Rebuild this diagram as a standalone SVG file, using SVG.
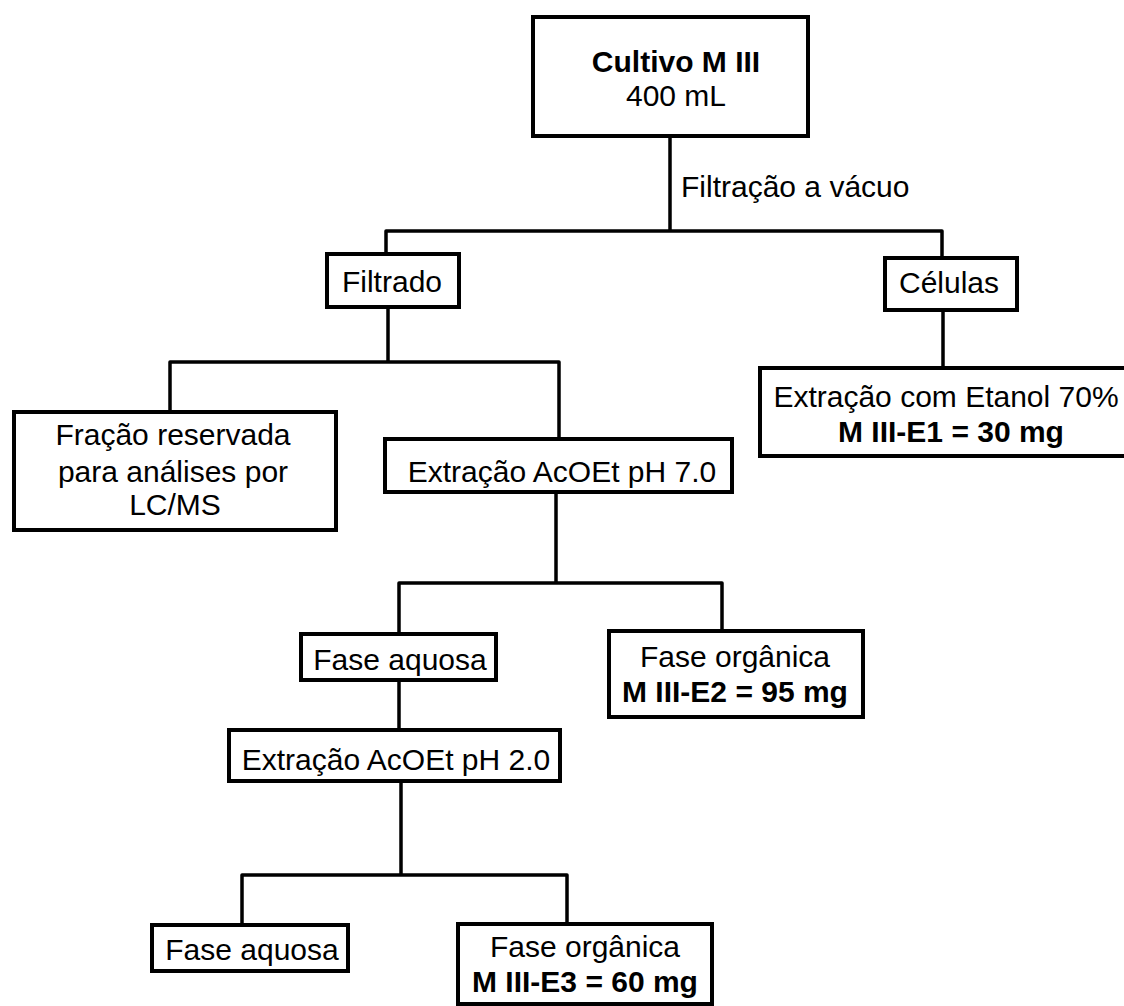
<svg xmlns="http://www.w3.org/2000/svg" width="1124" height="1006" viewBox="0 0 1124 1006">
<style>
.box{fill:#fff;stroke:#000;stroke-width:4}
.ln{stroke:#000;stroke-width:3.5;fill:none;stroke-linecap:round}
text{font-family:"Liberation Sans",Arial,sans-serif;font-size:30px;fill:#000;text-anchor:middle}
.b{font-weight:bold}
</style>
<rect width="1124" height="1006" fill="#fff"/>
<g id="connectors">
<path class="ln" d="M670,138V231M386,231H942M386,231V254M942,231V258M388,309V362M170,362H559M170,362V412M559,362V439M943,312V368M556,494V583M399,583H722M399,583V634M722,583V631M399,682V730M401,783V875M242,875H567M242,875V925M567,875V924"/>
<text x="681" y="197" style="text-anchor:start">Filtração a vácuo</text>
</g>
<g id="cultivo"><rect class="box" x="533" y="17" width="275" height="119"/><text class="b" x="676" y="72">Cultivo M III</text><text x="676" y="106">400 mL</text></g>
<g id="filtrado"><rect class="box" x="327" y="254" width="132" height="53"/><text x="392" y="292">Filtrado</text></g>
<g id="celulas"><rect class="box" x="885" y="258" width="132" height="52"/><text x="949" y="293">Células</text></g>
<g id="etanol"><rect class="box" x="760" y="368" width="375" height="88"/><text x="946" y="407">Extração com Etanol 70%</text><text class="b" x="951" y="442">M III-E1 = 30 mg</text></g>
<g id="fracao"><rect class="box" x="14" y="412" width="322" height="118"/><text x="173" y="445">Fração reservada</text><text x="173" y="482">para análises por</text><text x="175" y="515">LC/MS</text></g>
<g id="ph7"><rect class="box" x="385" y="439" width="347" height="53"/><text x="562" y="482">Extração AcOEt pH 7.0</text></g>
<g id="aquosa1"><rect class="box" x="301" y="634" width="195" height="46"/><text x="400" y="670">Fase aquosa</text></g>
<g id="organica1"><rect class="box" x="609" y="631" width="254" height="86"/><text x="735" y="667">Fase orgânica</text><text class="b" x="735" y="702">M III-E2 = 95 mg</text></g>
<g id="ph2"><rect class="box" x="229" y="730" width="331" height="51"/><text x="396" y="770">Extração AcOEt pH 2.0</text></g>
<g id="aquosa2"><rect class="box" x="152" y="925" width="196" height="46"/><text x="252" y="960">Fase aquosa</text></g>
<g id="organica2"><rect class="box" x="458" y="924" width="254" height="80"/><text x="585" y="957">Fase orgânica</text><text class="b" x="585" y="992">M III-E3 = 60 mg</text></g>
</svg>
